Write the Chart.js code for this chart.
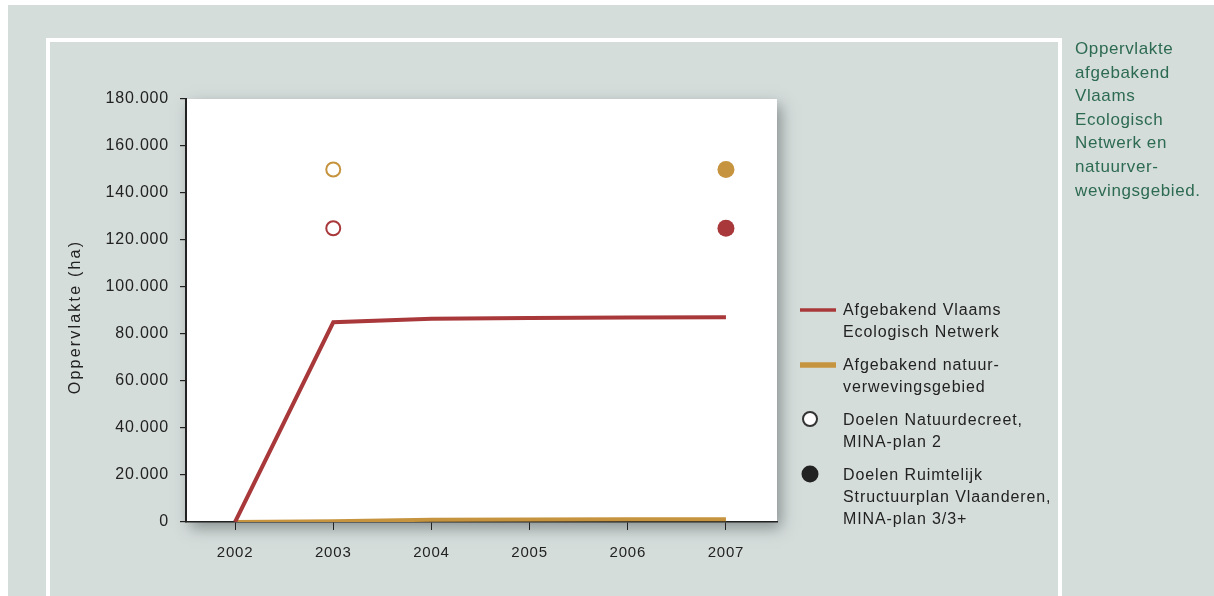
<!DOCTYPE html>
<html>
<head>
<meta charset="utf-8">
<script src="https://cdn.jsdelivr.net/npm/chart.js@4.4.1/dist/chart.umd.min.js"></script>
<style>
  html, body { margin: 0; padding: 0; background: #fff; }
  body { width: 1214px; height: 596px; position: relative; overflow: hidden;
         font-family: "Liberation Sans", Arial, sans-serif; }
  #achtergrond { position: absolute; left: 8px; top: 5px; right: 0; bottom: 0; background: #d5dddb; }
  #kader { position: absolute; left: 46px; top: 38px; width: 1008px; height: 600px;
           border: 4px solid #fff; border-bottom: none; }
  #grafiek { position: absolute; left: 0; top: 0; width: 1214px; height: 596px; }
  #zijtekst { position: absolute; left: 1075px; top: 37px; width: 140px; color: #2d6a52;
              font-size: 17px; line-height: 23.6px; letter-spacing: 0.6px; }
  #legende { position: absolute; left: 798px; top: 299px; color: #222; font-size: 16px;
             letter-spacing: 0.9px; }
  .item { position: relative; padding-left: 45px; line-height: 22px; margin-bottom: 11px; }
  .symbool { position: absolute; left: 0; }
</style>
</head>
<body>
<div id="achtergrond"></div>
<div id="kader"></div>
<canvas id="grafiek" width="1214" height="596"></canvas>
<div id="zijtekst">Oppervlakte<br>afgebakend<br>Vlaams<br>Ecologisch<br>Netwerk en<br>natuurver-<br>wevingsgebied.</div>
<div id="legende"></div>
<script>
const jaren = [2002, 2003, 2004, 2005, 2006, 2007];
const ven = [0, 85000, 86500, 86800, 87000, 87100];
const verweving = [0, 300, 1000, 1100, 1200, 1200];

// doelen (ha)
const doelJaarNatuurdecreet = 2003;
const doelJaarRSV = 2007;
const doelVen = 125000;
const doelVerweving = 150000;

const yTicks = [0, 20000, 40000, 60000, 80000, 100000, 120000, 140000, 160000, 180000];

const rood = "#a8383a";
const oker = "#c6943e";

const legendeTeksten = [
  ["Afgebakend Vlaams", "Ecologisch Netwerk"],
  ["Afgebakend natuur-", "verwevingsgebied"],
  ["Doelen Natuurdecreet,", "MINA-plan 2"],
  ["Doelen Ruimtelijk", "Structuurplan Vlaanderen,", "MINA-plan 3/3+"]
];

function punten(waarden) {
  return jaren.map((j, i) => ({ x: j, y: waarden[i] }));
}

function duizend(v) {
  return String(v).replace(/\B(?=(\d{3})+(?!\d))/g, ".");
}

// witte plotzone met schaduw
const plotAchtergrond = {
  id: "plotAchtergrond",
  beforeDraw(chart) {
    const { ctx, chartArea: a } = chart;
    ctx.save();
    ctx.shadowColor = "rgba(60,70,70,0.5)";
    ctx.shadowBlur = 14;
    ctx.shadowOffsetX = 4;
    ctx.shadowOffsetY = 6;
    ctx.fillStyle = "#fff";
    ctx.fillRect(a.left, a.top, a.right - a.left, a.bottom - a.top);
    ctx.restore();
    ctx.letterSpacing = "0.8px";
  }
};

const yTitel = {
  id: "yTitel",
  afterDraw(chart) {
    const ctx = chart.ctx;
    ctx.save();
    ctx.translate(76, 317);
    ctx.rotate(-Math.PI / 2);
    ctx.letterSpacing = "2.2px";
    ctx.font = "16px 'Liberation Sans', Arial, sans-serif";
    ctx.fillStyle = "#222";
    ctx.textAlign = "center";
    ctx.textBaseline = "middle";
    ctx.fillText("Oppervlakte (ha)", 0, 0);
    ctx.restore();
  }
};

const ctx = document.getElementById("grafiek").getContext("2d");
const grafiek = new Chart(ctx, {
  type: "line",
  data: {
    datasets: [
      {
        label: "Afgebakend Vlaams Ecologisch Netwerk",
        data: punten(ven),
        borderColor: rood, borderWidth: 4, pointRadius: 0, tension: 0,
        borderCapStyle: "butt"
      },
      {
        label: "Afgebakend natuurverwevingsgebied",
        data: punten(verweving),
        borderColor: oker, borderWidth: 4, pointRadius: 0, tension: 0,
        borderCapStyle: "butt"
      },
      {
        type: "scatter",
        label: "Doelen Natuurdecreet, MINA-plan 2",
        data: [{ x: doelJaarNatuurdecreet, y: doelVerweving }, { x: doelJaarNatuurdecreet, y: doelVen }],
        pointRadius: 7, borderWidth: 2,
        pointBorderColor: [oker, rood], pointBackgroundColor: "#fff"
      },
      {
        type: "scatter",
        label: "Doelen Ruimtelijk Structuurplan Vlaanderen, MINA-plan 3/3+",
        data: [{ x: doelJaarRSV, y: doelVerweving }, { x: doelJaarRSV, y: doelVen }],
        pointRadius: 8.5, borderWidth: 0,
        pointBackgroundColor: [oker, rood]
      }
    ]
  },
  options: {
    responsive: false,
    animation: false,
    layout: { padding: { left: 0, top: 99, right: 437, bottom: 0 } },
    plugins: { legend: { display: false }, tooltip: { enabled: false } },
    scales: {
      x: {
        type: "linear",
        min: 2001.5, max: 2007.52,
        afterBuildTicks: s => { s.ticks = jaren.map(v => ({ value: v })); },
        afterFit: s => { s.height = 74; },
        border: { display: true, color: "#222", width: 1.5 },
        grid: { drawOnChartArea: false, drawTicks: true, tickLength: 8, color: "#222", lineWidth: 1 },
        ticks: {
          color: "#222", padding: 14,
          font: { family: "'Liberation Sans', Arial, sans-serif", size: 15 },
          callback: v => String(v)
        }
      },
      y: {
        min: 0, max: 180000,
        afterBuildTicks: s => { s.ticks = yTicks.map(v => ({ value: v })); },
        afterFit: s => { s.width = 186; },
        border: { display: true, color: "#222", width: 2 },
        grid: { drawOnChartArea: false, drawTicks: true, tickLength: 6, color: "#222", lineWidth: 1.2 },
        ticks: {
          color: "#222", padding: 11,
          font: { family: "'Liberation Sans', Arial, sans-serif", size: 16 },
          callback: v => duizend(v)
        }
      }
    }
  },
  plugins: [plotAchtergrond, yTitel]
});

// legende opbouwen
const legende = document.getElementById("legende");
const symbolen = [
  `<svg class="symbool" width="40" height="22" style="top:0"><line x1="2" y1="11" x2="38" y2="11" stroke="${rood}" stroke-width="3.5"/></svg>`,
  `<svg class="symbool" width="40" height="22" style="top:0"><line x1="2" y1="11" x2="38" y2="11" stroke="${oker}" stroke-width="5.5"/></svg>`,
  `<svg class="symbool" width="40" height="22" style="top:0"><circle cx="12" cy="10" r="7" fill="#fff" stroke="#333" stroke-width="2"/></svg>`,
  `<svg class="symbool" width="40" height="22" style="top:0"><circle cx="12" cy="10" r="8.5" fill="#222"/></svg>`
];
legendeTeksten.forEach((regels, i) => {
  const div = document.createElement("div");
  div.className = "item";
  div.innerHTML = symbolen[i] + regels.join("<br>");
  legende.appendChild(div);
});
</script>
</body>
</html>
